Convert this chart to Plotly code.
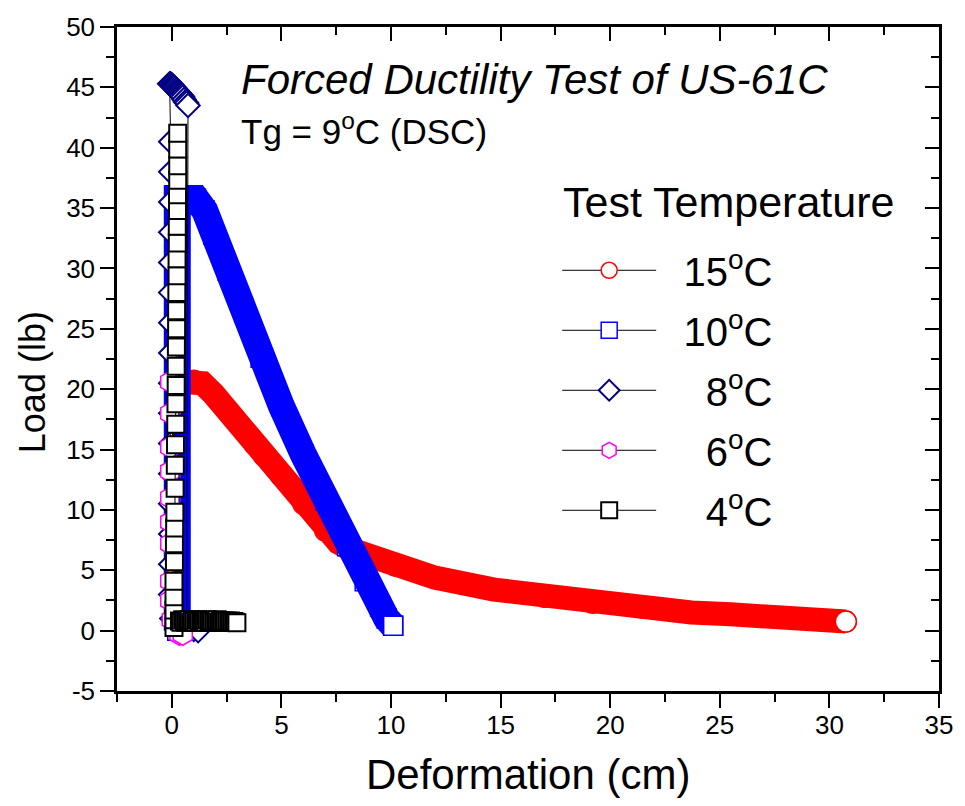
import plotly.graph_objects as go

FONT = "Liberation Sans, Arial, Helvetica, sans-serif"

# ---------------- data ----------------
# 15 °C  (red circles)
x15 = [0.2, 0.2, 0.2, 0.2, 0.2, 0.2, 0.25, 0.5, 1.0, 1.4, 1.9, 2.9, 3.8, 4.2, 5.0, 6.0,
       7.0, 7.6, 8.2, 9.0, 10.2, 12.0, 14.7, 17.0, 19.2, 21.5, 23.7, 25.5, 27.3, 29.6, 30.75]
y15 = [0.0, 3.5, 7.0, 10.5, 14.0, 17.0, 19.8, 20.6, 20.7, 20.5, 19.6, 17.5, 15.4, 14.5, 12.8, 10.5,
       8.3, 7.3, 6.7, 6.2, 5.4, 4.4, 3.4, 2.8, 2.3, 1.9, 1.5, 1.35, 1.2, 0.9, 0.75]

# 10 °C  (blue squares)
x10 = [0.25, 0.25, 0.25, 0.25, 0.25, 0.25, 0.25, 0.25, 0.6, 1.1, 1.5, 1.9, 2.55, 3.3, 4.05,
       5.0, 6.0, 7.0, 8.0, 8.8, 9.5, 9.8, 10.1]
y10 = [0.0, 5.0, 10.0, 15.0, 20.0, 25.0, 30.0, 35.8, 35.8, 35.8, 34.8, 32.8, 29.8, 26.4, 22.6,
       18.6, 14.6, 10.8, 7.0, 4.1, 2.0, 1.0, 0.4]

# 8 °C  (navy diamonds)
x8 = [0.3, 0.0, -0.05, -0.05, -0.05, -0.05, -0.05, -0.05, -0.05, -0.05, -0.05, -0.05, -0.05,
      -0.05, -0.05, -0.05, -0.05, -0.05, -0.1, -0.05, 0.0, 0.05, 0.1, 0.15, 0.2, 0.25, 0.3,
      0.35, 0.4, 0.45, 0.5, 0.56, 0.62, 0.68, 0.74, 0.68, 1.0, 1.2]
y8 = [0.0, 1.0, 3.0, 5.5, 8.0, 10.5, 13.0, 15.5, 18.0, 20.5, 23.0, 25.5, 28.0, 30.5, 33.0,
      35.5, 38.0, 40.5, 45.3, 45.3, 45.2, 45.1, 45.0, 44.9, 44.8, 44.7, 44.6, 44.5, 44.4,
      44.3, 44.2, 44.0, 43.8, 43.7, 43.5, 0.5, 0.1, 0.0]

# 6 °C  (magenta hexagons)
x6 = [0.35, 0.0, -0.07, -0.07, -0.07, -0.07, -0.07, -0.07, -0.07, -0.07, -0.07, 0.5]
y6 = [-0.3, 0.9, 2.5, 4.1, 7.2, 9.0, 11.0, 13.2, 15.2, 18.0, 20.6, -0.3]

# 4 °C  (black squares)
x4 = [0.1, 0.1, 0.1, 0.1, 0.1, 0.12, 0.12, 0.13, 0.14, 0.15, 0.16, 0.17, 0.18, 0.19, 0.2,
      0.2, 0.21, 0.22, 0.22, 0.23, 0.24, 0.24, 0.25, 0.25, 0.26, 0.26, 0.27, 0.27, 0.27, 0.27,
      0.35, 0.42, 0.5, 0.57, 0.64, 0.72, 0.8, 0.87, 0.94, 1.02, 1.1, 1.17, 1.24, 1.32, 1.4,
      1.47, 1.54, 1.62, 1.7, 1.77, 1.84, 1.92, 2.0, 2.07, 2.14, 2.22, 2.3, 2.37, 2.44, 2.52,
      2.6, 2.67, 2.74, 2.82, 2.9, 2.97]
y4 = [0.25, 0.9, 1.7, 2.8, 4.1, 5.7, 7.2, 8.5, 9.8, 11.8, 13.7, 15.4, 17.1, 18.8, 20.3,
      21.9, 23.5, 25.0, 26.5, 28.0, 29.4, 30.8, 32.1, 33.5, 34.8, 36.1, 37.3, 38.5, 39.9, 41.2,
      0.8, 0.7, 0.9, 0.8, 0.7, 0.8, 0.9, 0.7, 0.8, 0.8, 0.7, 0.9, 0.8, 0.7, 0.8,
      0.8, 0.7, 0.9, 0.8, 0.7, 0.8, 0.7, 0.8, 0.9, 0.7, 0.8, 0.7, 0.8, 0.75, 0.8,
      0.7, 0.8, 0.7, 0.75, 0.7, 0.65]

labels = ["\u00a0\u00a015<sup>o</sup>C", "\u00a0\u00a010<sup>o</sup>C",
          "\u00a0\u00a0\u00a0\u00a08<sup>o</sup>C", "\u00a0\u00a0\u00a0\u00a06<sup>o</sup>C",
          "\u00a0\u00a0\u00a0\u00a04<sup>o</sup>C"]

x_ticks = [0, 5, 10, 15, 20, 25, 30, 35]
y_ticks = [-5, 0, 5, 10, 15, 20, 25, 30, 35, 40, 45, 50]
X_RANGE = [-2.5, 35]
Y_RANGE = [-5, 50]

# ---------------- figure ----------------
fig = go.Figure()

W, H = 965, 806
ML, MR, MT, MB = 117, 17, 20, 115
PW, PH = W - ML - MR, H - MT - MB


def px_x(p):
    return (p - ML) / PW


def px_y(p):
    return (H - MB - p) / PH


def series(x, y, name, color, symbol, size, group, band=None, lw=1.5):
    fig.add_trace(go.Scatter(
        x=x, y=y, name=name, mode="lines+markers", legendgroup=group,
        line=dict(color="black", width=1),
        marker=dict(symbol=symbol, size=size, color="white",
                    line=dict(color=color, width=lw)),
        hoverinfo="skip"))
    if band:
        # dense overlapping symbols of the original form a solid band
        fig.add_trace(go.Scatter(
            x=x, y=y, mode="lines", showlegend=False, legendgroup=group,
            line=dict(color=color, width=band), hoverinfo="skip"))
        fig.add_trace(go.Scatter(
            x=x[-1:], y=y[-1:], mode="markers", showlegend=False, legendgroup=group,
            marker=dict(symbol=symbol, size=size, color="white",
                        line=dict(color=color, width=lw)),
            hoverinfo="skip"))


series(x15, y15, labels[0], "#FF0000", "circle", 21, "g15", band=24)
series(x10, y10, labels[1], "#0000FF", "square", 19, "g10", band=27)
series(x8, y8, labels[2], "#000080", "diamond", 18, "g8", lw=2)
series(x6, y6, labels[3], "#FF00FF", "hexagon", 22, "g6")
series(x4, y4, labels[4], "#000000", "square", 17, "g4", lw=2)

# empty trace so that the mirrored (top/right) axes are drawn
fig.add_trace(go.Scatter(x=[None], y=[None], xaxis="x2", yaxis="y2",
                         showlegend=False, hoverinfo="skip"))

axis_common = dict(showgrid=False, zeroline=False, showline=True, linecolor="black",
                   linewidth=2.5, tickcolor="black", tickwidth=2, ticklen=14)
minor_out = dict(dtick=2.5, tick0=0, ticks="outside", ticklen=8, tickwidth=2,
                 tickcolor="black")
minor_in = dict(dtick=2.5, tick0=0, ticks="inside", ticklen=8, tickwidth=2,
                tickcolor="black")

fig.update_layout(
    width=W, height=H,
    margin=dict(l=ML, r=MR, t=MT, b=MB, pad=0),
    paper_bgcolor="white", plot_bgcolor="white",
    font=dict(family=FONT, color="black"),
    xaxis=dict(range=X_RANGE, tickmode="array", tickvals=x_ticks,
               ticktext=[str(v) for v in x_ticks], ticks="outside",
               tickfont=dict(size=26, family=FONT, color="black"),
               ticklabelstandoff=-5, minor=minor_out, **axis_common),
    yaxis=dict(range=Y_RANGE, tickmode="array", tickvals=y_ticks,
               ticktext=[str(v) for v in y_ticks], ticks="outside",
               tickfont=dict(size=26, family=FONT, color="black"),
               minor=minor_out, **axis_common),
    xaxis2=dict(range=X_RANGE, overlaying="x", side="top", anchor="y2",
                tickmode="linear", tick0=0, dtick=5, ticks="inside",
                showticklabels=False, minor=minor_in, **axis_common),
    yaxis2=dict(range=Y_RANGE, overlaying="y", side="right", anchor="x2",
                tickmode="linear", tick0=0, dtick=5, ticks="inside",
                showticklabels=False, minor=minor_in, **axis_common),
    showlegend=True,
    legend=dict(x=px_x(562), xanchor="left", y=px_y(233), yanchor="top",
                font=dict(size=40, family=FONT, color="black"),
                bgcolor="rgba(0,0,0,0)", borderwidth=0,
                tracegroupgap=5, traceorder="grouped", itemwidth=94),
    annotations=[
        dict(text="<i>Forced Ductility Test of US-61C</i>", x=px_x(240), y=px_y(73),
             xref="paper", yref="paper", xanchor="left", yanchor="middle",
             showarrow=False, font=dict(size=42, family=FONT, color="black")),
        dict(text="Tg = 9<sup>o</sup>C (DSC)", x=px_x(240), y=px_y(123),
             xref="paper", yref="paper", xanchor="left", yanchor="middle",
             showarrow=False, font=dict(size=35, family=FONT, color="black")),
        dict(text="Test Temperature", x=px_x(566), y=px_y(197),
             xref="paper", yref="paper", xanchor="left", yanchor="middle",
             showarrow=False, font=dict(size=43, family=FONT, color="black")),
        dict(text="Deformation (cm)", x=px_x(532), y=px_y(775),
             xref="paper", yref="paper", xanchor="center", yanchor="middle",
             showarrow=False, font=dict(size=42, family=FONT, color="black")),
        dict(text="Load (lb)", x=px_x(31), y=px_y(379), textangle=-90,
             xref="paper", yref="paper", xanchor="center", yanchor="middle",
             showarrow=False, font=dict(size=36, family=FONT, color="black")),
    ],
)

fig.write_html("out.html")
